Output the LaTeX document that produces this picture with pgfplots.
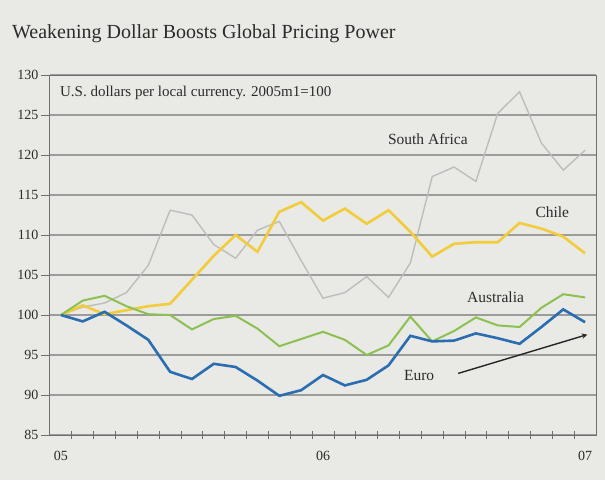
\documentclass[border=0pt]{standalone}
\usepackage{fontspec}
\setmainfont{Liberation Serif}
\usepackage{pgfplots}
\pgfplotsset{compat=1.18}
\usepackage{pgfplotstable}
\definecolor{bg}{HTML}{E9E9E5}
\definecolor{eurob}{HTML}{2A6DB0}
\definecolor{ausg}{HTML}{8CC152}
\definecolor{chiley}{HTML}{F2CC3A}
\definecolor{safg}{HTML}{BDBDBD}
\definecolor{gridc}{HTML}{9C9C9A}
\definecolor{axc}{HTML}{6E6E6E}
\definecolor{txt}{HTML}{2B2B2B}

\pgfplotstableread{
k euro aus chile safr
0 100 100 100 100
1 99.2 101.8 101.2 101.0
2 100.4 102.4 100.1 101.5
3 98.7 101.1 100.6 102.8
4 96.9 100.1 101.1 106.2
5 92.9 100.0 101.4 113.1
6 92.0 98.2 104.4 112.5
7 93.9 99.5 107.4 108.8
8 93.5 99.9 110.0 107.1
9 91.8 98.3 107.9 110.6
10 89.9 96.1 112.9 111.7
11 90.6 97.0 114.1 106.8
12 92.5 97.9 111.8 102.1
13 91.2 96.9 113.3 102.8
14 91.9 95.0 111.4 104.8
15 93.7 96.2 113.1 102.2
16 97.4 99.8 110.4 106.5
17 96.7 96.7 107.3 117.3
18 96.8 98.0 108.9 118.5
19 97.7 99.7 109.1 116.7
20 97.1 98.7 109.1 125.2
21 96.4 98.5 111.5 127.9
22 98.5 100.9 110.8 121.5
23 100.7 102.6 109.8 118.1
24 99.1 102.2 107.7 120.6
}\data

\begin{document}
\begin{tikzpicture}
\fill[bg] (0pt,0pt) rectangle (605pt,480pt);
\useasboundingbox (0pt,0pt) rectangle (605pt,480pt);
\node[anchor=base west, inner sep=0pt, text=txt, font=\fontsize{20}{23}\selectfont] at (12pt,441pt) {Weakening Dollar Boosts Global Pricing Power};
\begin{axis}[
  at={(50pt,45pt)}, anchor=south west,
  scale only axis, width=546pt, height=360pt,
  xmin=-0.5, xmax=24.5, ymin=85, ymax=130,
  xtick={0,12,24}, xticklabels={05,06,07},
  minor xtick={0.5,1.5,...,23.5},
  ytick={85,90,...,130},
  ymajorgrids,
  major grid style={draw=gridc, line width=1.1pt},
  axis line style={draw=axc, line width=1pt},
  /pgf/number format/assume math mode=true,
  yticklabel style={font=\fontsize{14}{16}\selectfont, text=txt, xshift=1pt},
  xticklabel style={font=\fontsize{14}{16}\selectfont, text=txt, yshift=-8pt},
  x tick style={draw=axc, line width=0.8pt},
  y tick style={draw=axc, line width=0.8pt},
  xtick align=center, ytick align=outside,
  major x tick style={draw=none},
  minor tick length=8pt,
  major tick length=9pt,
  tick pos=left,
  clip=false,
]
\addplot[safg, line width=1.4pt] table[x=k, y=safr] {\data};
\addplot[chiley, line width=2.6pt] table[x=k, y=chile] {\data};
\addplot[ausg, line width=2pt] table[x=k, y=aus] {\data};
\addplot[eurob, line width=2.6pt] table[x=k, y=euro] {\data};
\node[anchor=west, text=txt, font=\fontsize{15}{17}\selectfont] at (axis cs:-0.2,127.7) {U.S. dollars per local currency. 2005m1=100};
\node[text=txt, font=\fontsize{15.5}{18}\selectfont] at (axis cs:16.8,122.0) {South Africa};
\node[text=txt, font=\fontsize{15.5}{18}\selectfont] at (axis cs:22.5,112.9) {Chile};
\node[text=txt, font=\fontsize{15.5}{18}\selectfont] at (axis cs:19.9,102.25) {Australia};
\node[text=txt, font=\fontsize{15.5}{18}\selectfont] at (axis cs:16.4,92.4) {Euro};
\draw[-stealth, line width=1.4pt, black!85] (axis cs:18.19,92.7) -- (axis cs:24.1,97.55);
\end{axis}
\end{tikzpicture}
\end{document}
